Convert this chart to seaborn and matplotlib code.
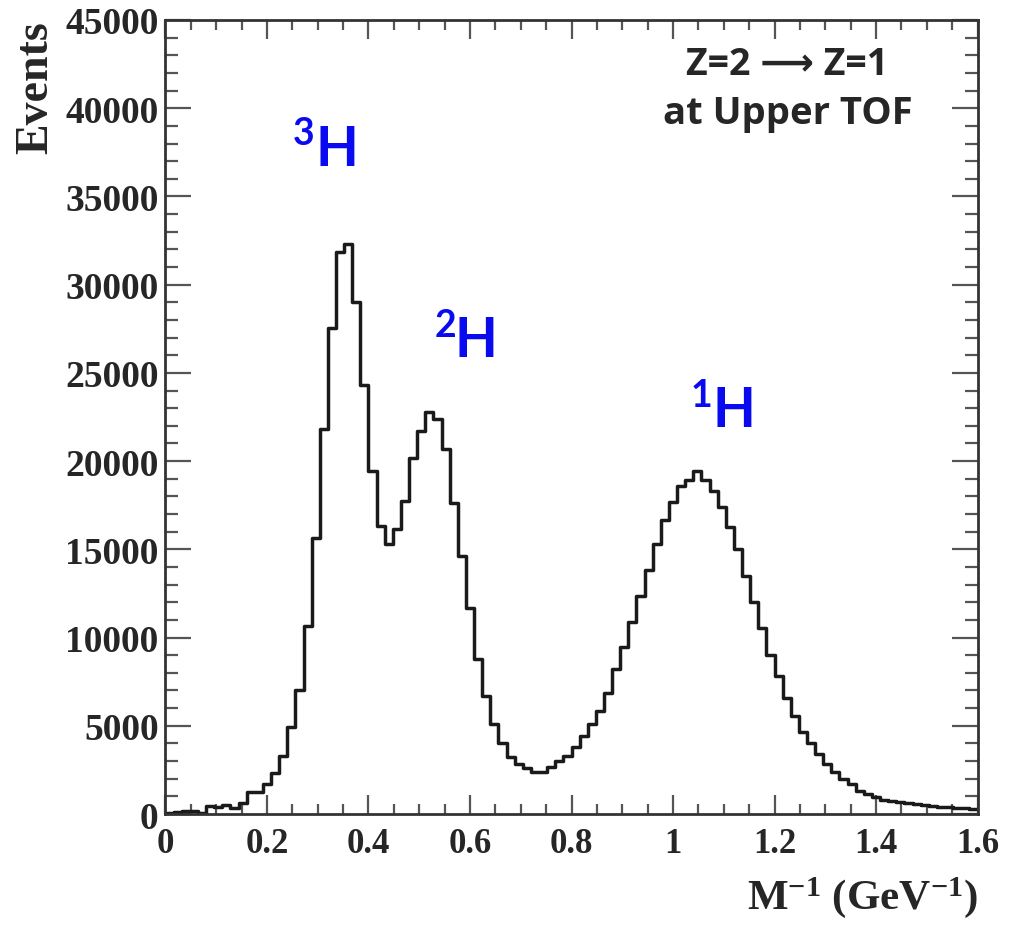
import numpy as np
import pandas as pd
import matplotlib
matplotlib.use("Agg")
import matplotlib.pyplot as plt
import seaborn as sns
from matplotlib.ticker import MultipleLocator

# 100 bins of width 0.016 between 0 and 1.6
x_min = 0.0
x_max = 1.6
n_bins = 100

# events per bin from left to right
events = [
    50, 120, 150, 190, 80, 435, 415, 510, 360, 620,
    1230, 1230, 1700, 2320, 3270, 4910, 7020, 10660, 15630, 21800,
    27560, 31840, 32280, 29010, 24300, 19440, 16340, 15290, 16140, 17740,
    20200, 21700, 22780, 22370, 20670, 17610, 14630, 11650, 8780, 6700,
    5100, 4020, 3210, 2830, 2600, 2400, 2400, 2640, 3020, 3300,
    3780, 4430, 5100, 5850, 6830, 8210, 9440, 10860, 12360, 13840,
    15290, 16670, 17710, 18590, 18950, 19440, 18930, 18310, 17420, 16290,
    15010, 13500, 11990, 10520, 9000, 7800, 6550, 5570, 4660, 4020,
    3400, 2830, 2400, 1980, 1700, 1320, 1130, 945, 810, 736,
    700, 620, 566, 510, 470, 415, 380, 340, 320, 283,
]

# isotope labels (mass number, H position in data coords)
isotopes = ["3", "2", "1"]
label_x = [0.296, 0.569, 1.077]
label_y = [36810, 25930, 21970]
digit_dx = [0.045, 0.039, 0.043]

edges = np.linspace(x_min, x_max, n_bins + 1)
centers = (edges[:-1] + edges[1:]) / 2
df = pd.DataFrame({"inv_mass": centers, "events": events})

sns.set_style("ticks")
plt.rcParams["font.family"] = ["Liberation Serif", "DejaVu Serif"]
plt.rcParams["mathtext.fontset"] = "custom"
plt.rcParams["mathtext.rm"] = "Liberation Serif:bold"
plt.rcParams["mathtext.default"] = "rm"

fig = plt.figure(figsize=(10.17, 9.29), dpi=100)
ax = fig.add_axes([0.1627, 0.1227, 0.7985, 0.8547])

sns.histplot(data=df, x="inv_mass", weights="events", bins=edges.tolist(),
             element="step", fill=False, color="#1a1a1a", linewidth=2.5, ax=ax)

ax.set_xlim(x_min, x_max)
ax.set_ylim(0, 45000)
ax.xaxis.set_major_locator(MultipleLocator(0.2))
ax.xaxis.set_minor_locator(MultipleLocator(0.05))
ax.yaxis.set_major_locator(MultipleLocator(5000))
ax.yaxis.set_minor_locator(MultipleLocator(1000))
ax.set_xticks(np.arange(0, 1.61, 0.2))
ax.set_xticklabels(["0", "0.2", "0.4", "0.6", "0.8", "1", "1.2", "1.4", "1.6"])

for side in ax.spines.values():
    side.set_linewidth(2.0)
    side.set_color("#333333")

ax.tick_params(axis="both", which="both", direction="in", top=True, right=True,
               color="#555555", width=1.6)
ax.tick_params(axis="x", which="major", length=14, pad=9, labelsize=25)
ax.tick_params(axis="x", which="minor", length=7)
ax.tick_params(axis="y", which="major", length=19, pad=5, labelsize=27)
ax.tick_params(axis="y", which="minor", length=9.5)
for lab in ax.get_xticklabels() + ax.get_yticklabels():
    lab.set_fontweight("bold")

ax.set_xlabel(r"M$^{-1}$ (GeV$^{-1}$)", fontsize=31, fontweight="bold")
ax.xaxis.set_label_coords(1.0, -0.075)
ax.xaxis.label.set_horizontalalignment("right")
ax.set_ylabel("Events", fontsize=33, fontweight="bold")
ax.yaxis.set_label_coords(-0.133, 1.0)
ax.yaxis.label.set_verticalalignment("bottom")
ax.yaxis.label.set_horizontalalignment("right")

# isotope labels
for num, hx, hy, dx in zip(isotopes, label_x, label_y, digit_dx):
    ax.text(hx, hy, "H", family=["Lato", "DejaVu Sans"], fontweight="bold",
            fontsize=40, color="#0a0af0", ha="left", va="baseline")
    ax.text(hx - dx, hy + 1150, num, family=["Lato", "DejaVu Sans"],
            fontweight="bold", fontsize=27, color="#0a0af0", ha="left", va="baseline")

ax.text(0.766, 0.9325, "Z=2 \u27f6 Z=1", transform=ax.transAxes, ha="center",
        va="baseline", fontsize=27, fontweight="bold",
        family=["Open Sans", "DejaVu Sans"])
ax.text(0.766, 0.8705, "at Upper TOF", transform=ax.transAxes, ha="center",
        va="baseline", fontsize=27.5, fontweight="bold",
        family=["Open Sans", "DejaVu Sans"])

fig.savefig("out.png", dpi=100)
